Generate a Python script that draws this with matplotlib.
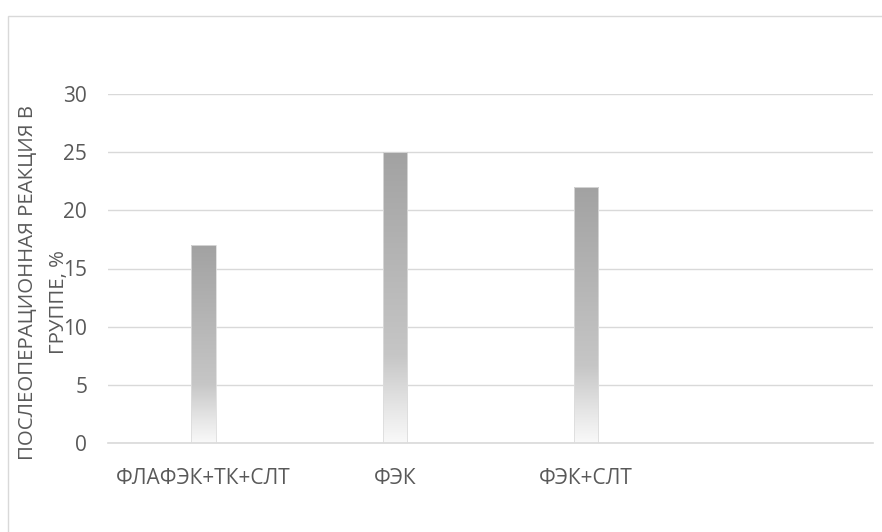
import numpy as np
import matplotlib
matplotlib.use('Agg')
import matplotlib.pyplot as plt
from matplotlib.colors import LinearSegmentedColormap
from matplotlib.patches import Rectangle

# data
categories = ['ФЛАФЭК+ТК+СЛТ', 'ФЭК', 'ФЭК+СЛТ', '']
values = [17, 25, 22, 0]
y_ticks = [0, 5, 10, 15, 20, 25, 30]
ylabel_lines = ['ПОСЛЕОПЕРАЦИОННАЯ РЕАКЦИЯ В', 'ГРУППЕ, %']

plt.rcParams['font.family'] = ['Open Sans', 'DejaVu Sans']
text_color = '#595959'
grid_color = '#d9d9d9'

fig = plt.figure(figsize=(8.82, 5.32), dpi=100)
W, H = 882, 532
ax = fig.add_axes([108 / W, 1 - 443 / H, (873 - 108) / W, (443 - 94) / H])

# gradient: dark gray at top, fading to near white at the bottom
cmap = LinearSegmentedColormap.from_list(
    'bar_grad', [(0.0, '#f9f9f9'), (0.12, '#e6e6e6'), (0.3, '#c6c6c6'), (1.0, '#a2a2a2')])
grad = np.linspace(0, 1, 256).reshape(-1, 1)

x = np.arange(len(categories))
width = 0.128
bars = ax.bar(x, values, width=width, facecolor='none', edgecolor='#dcdcdc',
              linewidth=0.6, zorder=3)
for b, v in zip(bars, values):
    if v <= 0:
        continue
    x0 = b.get_x()
    im = ax.imshow(grad, cmap=cmap, origin='lower', aspect='auto',
                   extent=[x0, x0 + b.get_width(), 0, v], zorder=2)
    im.set_clip_path(b)

ax.set_xlim(-0.5, len(categories) - 0.5)
ax.set_ylim(0, 30)
ax.set_yticks(y_ticks)
ax.set_xticks(x)
ax.set_xticklabels(categories)
ax.tick_params(axis='both', length=0, labelsize=15, labelcolor=text_color)
ax.tick_params(axis='y', pad=15)
ax.tick_params(axis='x', pad=18)

ax.grid(axis='y', color=grid_color, linewidth=1.0, zorder=0)
ax.set_axisbelow(True)
for s in ['top', 'right', 'left']:
    ax.spines[s].set_visible(False)
ax.spines['bottom'].set_color(grid_color)
ax.spines['bottom'].set_linewidth(1.2)

# rotated two-line axis title, as drawn in the reference
fig.text(28 / W, 1 - 283 / H, ylabel_lines[0], rotation=90, ha='center', va='center',
         fontsize=14.7, color=text_color)
fig.text(59 / W, 1 - 302 / H, ylabel_lines[1], rotation=90, ha='center', va='center',
         fontsize=14.7, color=text_color)

# chart area border
fig.patches.append(Rectangle((8 / W, -0.05), 1.0, 1 - 16 / H + 0.05,
                             transform=fig.transFigure, fill=False,
                             edgecolor=grid_color, linewidth=1.0))

fig.savefig('out.png', dpi=100)
